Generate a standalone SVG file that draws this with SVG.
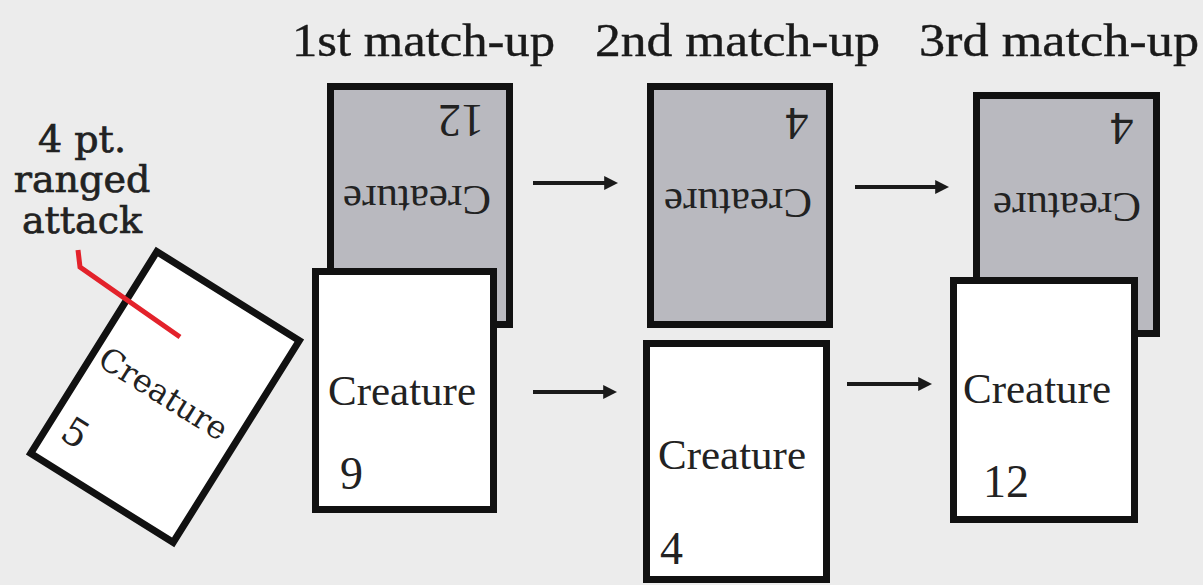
<svg xmlns="http://www.w3.org/2000/svg" width="1203" height="585" viewBox="0 0 1203 585">
  <style>
    .card { stroke: #111; stroke-width: 7; stroke-linejoin: miter; }
    .white { fill: #ffffff; }
    .gray { fill: #b9b9bf; }
    .ct { font-family: "Liberation Serif", serif; font-size: 43px; fill: #222; }
    .num { font-family: "Liberation Serif", serif; font-size: 46px; fill: #222; }
    .head { font-family: "Liberation Serif", serif; font-size: 47px; fill: #1a1a1a; stroke: #1a1a1a; stroke-width: 0.4; }
    .slab { font-family: "DejaVu Serif", serif; fill: #222; }
    .lbl { stroke: #222; stroke-width: 0.7; }
    .arrow { stroke: #1a1a1a; stroke-width: 4; fill: none; marker-end: url(#ah); }
  </style>
  <defs>
    <marker id="ah" viewBox="0 0 10 10" refX="2" refY="5" markerWidth="14" markerHeight="14" markerUnits="userSpaceOnUse" orient="auto">
      <path d="M0 0 L10 5 L0 10 Z" fill="#1a1a1a"/>
    </marker>
  </defs>

  <rect x="0" y="0" width="1203" height="585" fill="#ececec"/>

  <g id="headers">
    <text class="head" x="292" y="56" textLength="263" lengthAdjust="spacingAndGlyphs">1st match-up</text>
    <text class="head" x="595" y="56" textLength="285" lengthAdjust="spacingAndGlyphs">2nd match-up</text>
    <text class="head" x="919" y="56" textLength="280" lengthAdjust="spacingAndGlyphs">3rd match-up</text>
  </g>

  <g id="ranged-label">
    <text class="slab lbl" font-size="38" text-anchor="middle" x="82" y="152">4 pt.</text>
    <text class="slab lbl" font-size="38" text-anchor="middle" x="82" y="192">ranged</text>
    <text class="slab lbl" font-size="38" text-anchor="middle" x="82" y="233">attack</text>
  </g>

  <g id="attacker" transform="translate(165 397) rotate(32)">
    <rect class="card white" x="-84" y="-119" width="168" height="238"/>
    <text class="slab" font-size="32" text-anchor="middle" x="-3" y="9">Creature</text>
    <text class="slab" font-size="38" text-anchor="middle" x="-57" y="91">5</text>
  </g>

  <g id="attack-line">
    <path d="M78 250 L80 267 L180 337" fill="none" stroke="#e3222b" stroke-width="5"/>
  </g>

  <g id="enemy1">
    <rect class="card gray" x="330.5" y="86.5" width="179" height="238"/>
    <text class="ct" text-anchor="middle" x="417" y="186" transform="rotate(180 417 186)">Creature</text>
    <text class="num" text-anchor="middle" x="461" y="105" transform="rotate(180 461 105)">12</text>
  </g>
  <g id="defender1">
    <rect class="card white" x="315.5" y="271.5" width="178" height="238"/>
    <text class="ct" x="328" y="405">Creature</text>
    <text class="num" x="340" y="489">9</text>
  </g>

  <g id="enemy2">
    <rect class="card gray" x="650.5" y="86.5" width="179" height="238"/>
    <text class="ct" text-anchor="middle" x="738" y="189" transform="rotate(180 738 189)">Creature</text>
    <text class="num" text-anchor="middle" x="797" y="108" transform="rotate(180 797 108)">4</text>
  </g>
  <g id="defender2">
    <rect class="card white" x="646.5" y="343.5" width="180" height="236"/>
    <text class="ct" x="658" y="469">Creature</text>
    <text class="num" x="660" y="564">4</text>
  </g>

  <g id="enemy3">
    <rect class="card gray" x="976.5" y="95.5" width="180" height="238"/>
    <text class="ct" text-anchor="middle" x="1067" y="193" transform="rotate(180 1067 193)">Creature</text>
    <text class="num" text-anchor="middle" x="1122" y="113" transform="rotate(180 1122 113)">4</text>
  </g>
  <g id="defender3">
    <rect class="card white" x="953.5" y="280.5" width="181" height="239"/>
    <text class="ct" x="963" y="403">Creature</text>
    <text class="num" x="983" y="497">12</text>
  </g>

  <g id="connectors">
    <line class="arrow" x1="533" y1="183" x2="607" y2="183"/>
    <line class="arrow" x1="533" y1="392" x2="606" y2="392"/>
    <line class="arrow" x1="855" y1="187" x2="938" y2="187"/>
    <line class="arrow" x1="847" y1="384" x2="921" y2="384"/>
  </g>
</svg>
